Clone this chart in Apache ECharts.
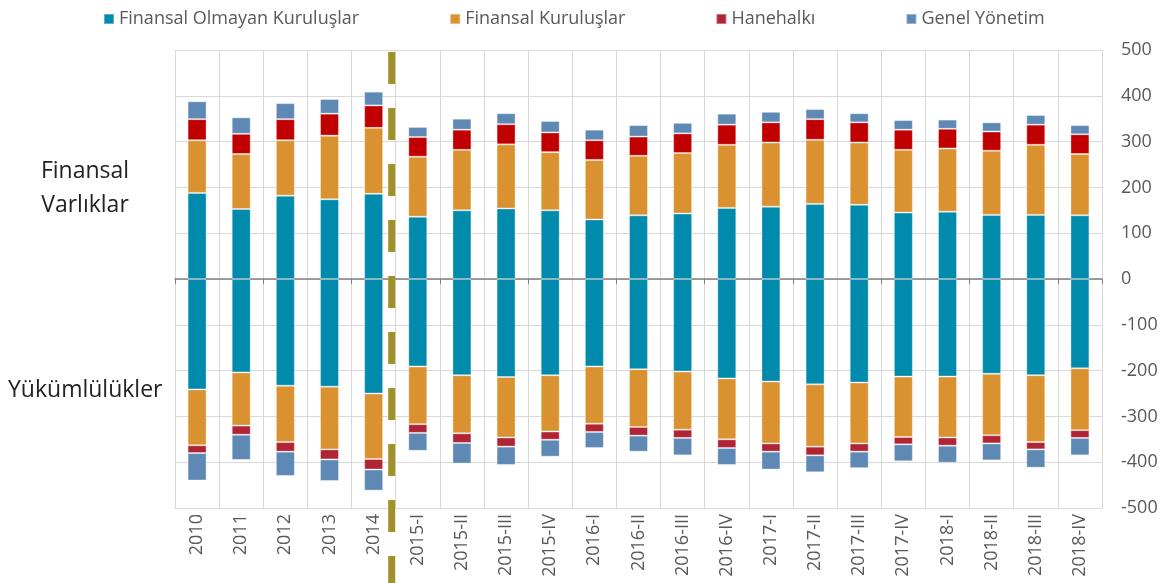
<!DOCTYPE html>
<html>
<head>
<meta charset="utf-8">
<script src="https://cdn.jsdelivr.net/npm/echarts@6/dist/echarts.min.js"></script>
<style>
	html, body { margin: 0; padding: 0; background: #fff; }
	#main { width: 1173px; height: 583px; }
</style>
</head>
<body>
<div id="main"></div>
<script>
	const categories = ['2010', '2011', '2012', '2013', '2014',
		'2015-I', '2015-II', '2015-III', '2015-IV',
		'2016-I', '2016-II', '2016-III', '2016-IV',
		'2017-I', '2017-II', '2017-III', '2017-IV',
		'2018-I', '2018-II', '2018-III', '2018-IV'];

	const seriesNames = ['Finansal Olmayan Kuruluşlar', 'Finansal Kuruluşlar', 'Hanehalkı', 'Genel Yönetim'];

	// varlıklar (pozitif)
	const assetNonFin = [188, 153, 182, 174, 186, 136, 150, 154, 150, 130, 139, 143, 155, 158, 164, 162, 145, 147, 140, 140, 139];
	const assetFin = [115, 120, 121, 139, 144, 131, 132, 140, 127, 130, 130, 132, 138, 140, 140, 136, 137, 138, 140, 153, 134];
	const assetHouse = [46, 44, 46, 48, 49, 43, 44, 44, 43, 43, 42, 43, 44, 44, 45, 44, 44, 43, 42, 44, 43];
	const assetGov = [39, 36, 35, 32, 30, 22, 24, 24, 25, 23, 25, 23, 24, 23, 22, 20, 21, 20, 20, 21, 20];

	// yükümlülükler (negatif)
	const liabNonFin = [-241, -204, -233, -235, -250, -191, -210, -214, -210, -191, -197, -202, -217, -224, -230, -226, -213, -213, -207, -210, -195];
	const liabFin = [-122, -116, -123, -137, -143, -126, -127, -132, -123, -125, -126, -127, -133, -135, -136, -133, -132, -133, -134, -146, -135];
	const liabHouse = [-17, -20, -21, -22, -23, -19, -21, -20, -18, -18, -19, -18, -19, -18, -19, -18, -16, -18, -18, -16, -17];
	const liabGov = [-60, -55, -53, -47, -46, -39, -45, -40, -37, -35, -35, -38, -37, -39, -37, -36, -37, -37, -37, -40, -38];

	const colors = ['#008BAD', '#DA9231', '#C00000', '#5E89B4'];
	const liabColors = ['#008BAD', '#DA9231', '#B02536', '#5E89B4'];

	const font = '"Open Sans", sans-serif';

	function barSeries(name, data, color) {
		return {
			name: name,
			type: 'bar',
			stack: 'total',
			barWidth: 19,
			xAxisIndex: 0,
			itemStyle: {
				color: color,
				borderColor: 'rgba(255,255,255,0.35)',
				borderWidth: 1
			},
			data: data
		}
	}

	const assets = [assetNonFin, assetFin, assetHouse, assetGov];
	const liabs = [liabNonFin, liabFin, liabHouse, liabGov];
	let series = [];
	assets.map((d, i) => series.push(barSeries(seriesNames[i], d, colors[i])));
	liabs.map((d, i) => series.push(barSeries(seriesNames[i], d, liabColors[i])));

	const chart = echarts.init(document.getElementById('main'), null, { renderer: 'canvas' });

	chart.setOption({
		animation: false,
		textStyle: { fontFamily: font },
		legend: {
			top: 5,
			left: 98,
			itemWidth: 10,
			itemHeight: 10,
			itemGap: 90,
			icon: 'rect',
			textStyle: { fontSize: 18, color: '#595959', fontFamily: font },
			data: seriesNames.map((n, i) => ({ name: n, itemStyle: { color: liabColors[i] } }))
		},
		grid: {
			left: 175,
			right: 71,
			top: 50,
			bottom: 75,
			containLabel: false
		},
		xAxis: [{
			type: 'category',
			position: 'bottom',
			data: categories,
			axisLine: { show: false, onZero: false },
			axisTick: { show: false },
			axisLabel: {
				rotate: 90,
				interval: 0,
				margin: 6,
				fontSize: 18,
				color: '#595959',
				fontFamily: font
			},
			splitLine: {
				show: true,
				interval: 0,
				lineStyle: { color: '#d9d9d9', width: 1 }
			}
		}, {
			// sıfır çizgisi
			type: 'category',
			position: 'bottom',
			data: categories,
			axisLine: { show: true, onZero: true, lineStyle: { color: '#808080', width: 1.5 } },
			axisTick: { show: true, length: 5, lineStyle: { color: '#808080' } },
			axisLabel: { show: false },
			splitLine: { show: false }
		}],
		yAxis: {
			type: 'value',
			position: 'right',
			min: -500,
			max: 500,
			interval: 100,
			axisLine: { show: false },
			axisTick: { show: false },
			axisLabel: { margin: 19, fontSize: 18, color: '#595959', fontFamily: font },
			splitLine: { lineStyle: { color: '#d9d9d9', width: 1 } }
		},
		series: series
	});

	// 2014 / 2015-I arasındaki kesikli çizgi
	let x1 = chart.convertToPixel({ xAxisIndex: 0 }, '2014');
	let x2 = chart.convertToPixel({ xAxisIndex: 0 }, '2015-I');
	let xs = (x1 + x2) / 2 - 4;

	chart.setOption({
		graphic: [{
			type: 'line',
			z: 100,
			shape: { x1: xs, y1: 52, x2: xs, y2: 583 },
			style: { stroke: '#A0902A', lineWidth: 7, lineDash: [32, 24] }
		}, {
			type: 'text',
			left: 40,
			top: 154,
			style: {
				text: 'Finansal\nVarlıklar',
				font: '23px ' + font,
				fill: '#222',
				textAlign: 'center',
				lineHeight: 34,
				width: 90
			}
		}, {
			type: 'text',
			left: 8,
			top: 379,
			style: {
				text: 'Yükümlülükler',
				font: '23px ' + font,
				fill: '#222'
			}
		}]
	});
</script>
</body>
</html>
